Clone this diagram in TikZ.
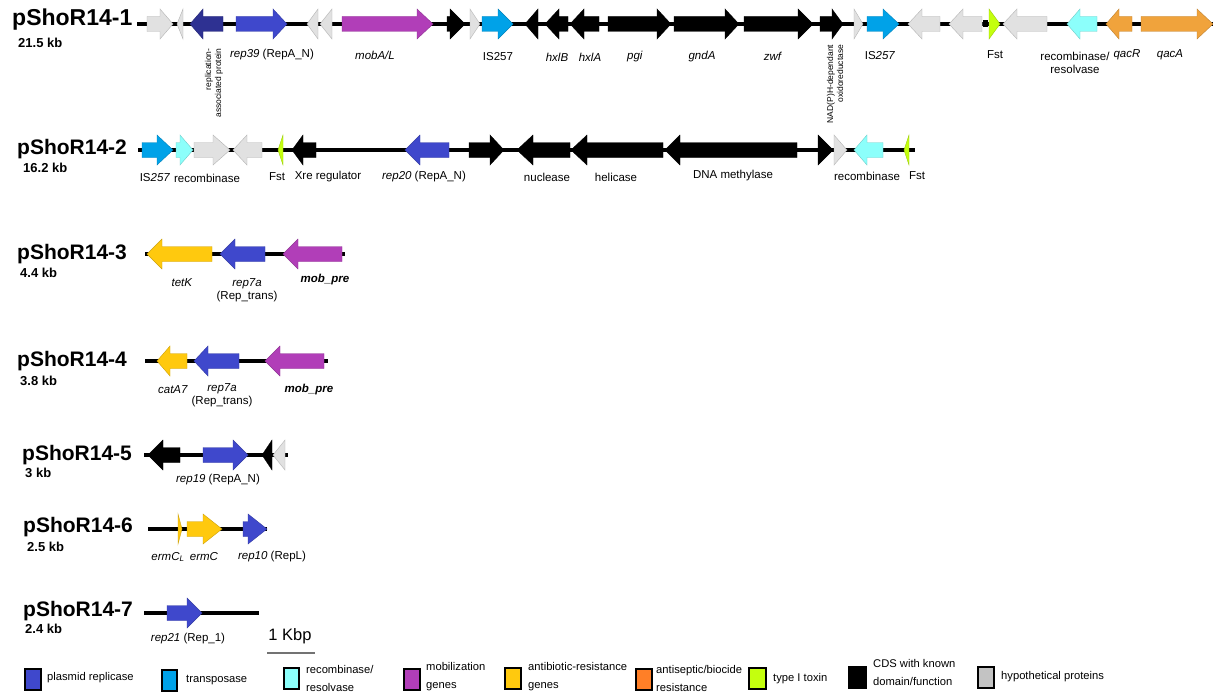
\documentclass[tikz,border=0pt]{standalone}
\usepackage{fontspec}
\setmainfont{Liberation Sans}
\definecolor{rep}{HTML}{3F48CC}
\definecolor{navy}{HTML}{2E3192}
\definecolor{tpase}{HTML}{00A2E8}
\definecolor{rec}{HTML}{8CFFFB}
\definecolor{mob}{HTML}{B13EB8}
\definecolor{abr}{HTML}{FFC90E}
\definecolor{qac}{HTML}{F0A33C}
\definecolor{asb}{HTML}{FF7F27}
\definecolor{tox}{HTML}{C4FF0E}
\definecolor{hyp}{HTML}{E1E1E1}
\definecolor{hypl}{HTML}{C3C3C3}
\newcommand\gn[5]{\path[gene,fill=#1,draw=#1!80!black] (#3,#2-7.5) -- (#4,#2-7.5) -- (#4,#2-15) -- (#5,#2) -- (#4,#2+15) -- (#4,#2+7.5) -- (#3,#2+7.5) -- cycle;}
\tikzset{
  gene/.style={line width=0.4pt, line join=miter},
  bb/.style={line width=4.5pt, black},
  lab/.style={font=\fontsize{11.5}{13.5}\selectfont, inner sep=0pt, align=center},
  rot/.style={font=\fontsize{8.5}{10}\selectfont, rotate=90, align=right, inner sep=0pt},
  ttl/.style={font=\fontsize{21}{24}\selectfont\bfseries, anchor=west, inner sep=0pt},
  kb/.style={font=\fontsize{13}{15}\selectfont\bfseries, anchor=west, inner sep=0pt},
  lbox/.style={line width=2pt, draw=black},
  ltxt/.style={font=\fontsize{11.2}{18}\selectfont, anchor=west, inner sep=0pt, align=left},
}
\begin{document}
\begin{tikzpicture}[x=1pt,y=-1pt]
\clip (0,0) rectangle (1213,693);
\fill[white] (0,0) rectangle (1213,693);

% ---------- pShoR14-1 ----------
\node[ttl] (t1) at (12,20) {\fontsize{23}{26}\selectfont pShoR14-1};
\node[kb] (k1) at (18,43) {21.5 kb};
\draw[bb] (137,24) -- (1213,24);
\gn{hyp}{24}{147}{160}{173}
\gn{hyp}{24}{183}{183}{177}
\gn{navy}{24}{223}{203}{190}
\gn{rep}{24}{236}{273}{287}
\gn{hyp}{24}{318}{318}{307}
\gn{hyp}{24}{332}{332}{320}
\gn{mob}{24}{342}{417}{433}
\gn{black}{24}{447}{450}{465}
\gn{hyp}{24}{470}{470}{480}
\gn{tpase}{24}{482}{498}{513}
\gn{black}{24}{538}{538}{525}
\gn{black}{24}{568}{559}{545}
\gn{black}{24}{599}{584}{570}
\gn{black}{24}{608}{657}{671}
\gn{black}{24}{674}{725}{739}
\gn{black}{24}{744}{798}{813}
\gn{black}{24}{820}{832}{843}
\gn{hyp}{24}{854}{854}{863}
\gn{tpase}{24}{867}{883}{899}
\gn{hyp}{24}{940}{922}{908}
\gn{hyp}{24}{982}{963}{949}
\fill[black] (983,20.5) rectangle (988,27.5);
\gn{tox}{24}{989}{989}{1000}
\gn{hyp}{24}{1047}{1017}{1003}
\gn{rec}{24}{1097}{1080}{1067}
\gn{qac}{24}{1132}{1119}{1106}
\gn{qac}{24}{1141}{1197}{1213}
\node[rot] (r1a) at (214,83) {replication-\\associated protein};
\node[lab] (r1b) at (272,55) {\textit{rep39} (RepA\_N)};
\node[lab] (r1c) at (375,55) {\textit{mobA/L}};
\node[lab] (r1d) at (498,57) {IS257};
\node[lab] (r1e) at (557,57) {\textit{hxlB}};
\node[lab] (r1f) at (590,57) {\textit{hxlA}};
\node[lab] (r1g) at (635,57) {\textit{pgi}};
\node[lab] (r1h) at (702,57) {\textit{gndA}};
\node[lab] (r1i) at (773,56) {\textit{zwf}};
\node[rot] (r1j) at (835,84) {NAD(P)H-dependant\\oxidoreductase};
\node[lab] (r1k) at (880,56) {IS\textit{257}};
\node[lab] (r1l) at (995,55) {Fst};
\node[lab] (r1m) at (1075,63) {recombinase/\\resolvase};
\node[lab] (r1n) at (1127,55) {\textit{qacR}};
\node[lab] (r1o) at (1170,55) {\textit{qacA}};

% ---------- pShoR14-2 ----------
\node[ttl] (t2) at (17,149) {pShoR14-2};
\node[kb] (k2) at (23,168) {16.2 kb};
\draw[bb] (138,150) -- (915,150);
\gn{tpase}{150}{142}{157}{173}
\gn{rec}{150}{176}{180}{193}
\gn{hyp}{150}{194}{213}{230}
\gn{hyp}{150}{262}{247}{233}
\gn{tox}{150}{283}{283}{278}
\gn{black}{150}{316}{303}{292}
\gn{rep}{150}{449}{420}{405}
\gn{black}{150}{469}{490}{504}
\gn{black}{150}{570}{533}{517}
\gn{black}{150}{663}{587}{571}
\gn{black}{150}{797}{680}{665}
\gn{black}{150}{818}{818}{833}
\gn{hyp}{150}{834}{834}{847}
\gn{rec}{150}{883}{867}{854}
\gn{tox}{150}{909}{909}{904}
\node[lab] (r2a) at (155,178) {IS\textit{257}};
\node[lab] (r2b) at (207,178) {recombinase};
\node[lab] (r2c) at (277,177) {Fst};
\node[lab] (r2d) at (328,177) {Xre regulator};
\node[lab] (r2e) at (424,177) {\textit{rep20} (RepA\_N)};
\node[lab] (r2f) at (547,177) {nuclease};
\node[lab] (r2g) at (616,177) {helicase};
\node[lab] (r2h) at (733,176) {DNA methylase};
\node[lab] (r2i) at (867,176) {recombinase};
\node[lab] (r2j) at (917,176) {Fst};

% ---------- pShoR14-3 ----------
\node[ttl] (t3) at (17,254) {pShoR14-3};
\node[kb] (k3) at (20,273) {4.4 kb};
\draw[bb] (145,254) -- (345,254);
\gn{abr}{254}{212}{162}{147}
\gn{rep}{254}{265}{235}{220}
\gn{mob}{254}{342}{298}{283}
\node[lab] (r3a) at (182,283) {\textit{tetK}};
\node[lab] (r3b) at (247,290) {\textit{rep7a}\\(Rep\_trans)};
\node[lab] (r3c) at (325,280) {\bfseries\itshape mob\_pre};

% ---------- pShoR14-4 ----------
\node[ttl] (t4) at (17,361) {pShoR14-4};
\node[kb] (k4) at (20,381) {3.8 kb};
\draw[bb] (145,361) -- (328,361);
\gn{abr}{361}{187}{170}{157}
\gn{rep}{361}{239}{208}{194}
\gn{mob}{361}{324}{280}{265}
\node[lab] (r4a) at (173,390) {\textit{catA7}};
\node[lab] (r4b) at (222,395) {\textit{rep7a}\\(Rep\_trans)};
\node[lab] (r4c) at (309,390) {\bfseries\itshape mob\_pre};

% ---------- pShoR14-5 ----------
\node[ttl] (t5) at (22,455) {pShoR14-5};
\node[kb] (k5) at (25,473) {3 kb};
\draw[bb] (144,455) -- (288,455);
\gn{black}{455}{180}{163}{148}
\gn{rep}{455}{203}{233}{248}
\gn{black}{455}{272}{272}{262}
\gn{hyp}{455}{285}{285}{273}
\node[lab] (r5a) at (218,480) {\textit{rep19} (RepA\_N)};

% ---------- pShoR14-6 ----------
\node[ttl] (t6) at (23,527) {pShoR14-6};
\node[kb] (k6) at (27,547) {2.5 kb};
\draw[bb] (148,529) -- (267,529);
\gn{abr}{529}{178}{178}{182}
\gn{abr}{529}{187}{203}{222}
\gn{rep}{529}{243}{248}{267}
\node[lab] (r6a) at (168,557) {\textit{ermC\textsubscript{L}}};
\node[lab] (r6b) at (204,557) {\textit{ermC}};
\node[lab] (r6c) at (272,557) {\textit{rep10} (RepL)};

% ---------- pShoR14-7 ----------
\node[ttl] (t7) at (23,611) {pShoR14-7};
\node[kb] (k7) at (25,629) {2.4 kb};
\draw[bb] (144,613) -- (259,613);
\gn{rep}{613}{167}{187}{202}
\node[lab] (r7a) at (188,639) {\textit{rep21} (Rep\_1)};
\node[inner sep=0pt, font=\fontsize{16.5}{18}\selectfont] (sc) at (290,636) {1 Kbp};
\coordinate (sa) at (267,653);
\coordinate (sb) at (315,653);
\draw[line width=1.5pt, black!55] (sa) -- (sb);

% ---------- legend ----------
\draw[lbox, fill=rep] (25,669) rectangle (41,690);
\node[ltxt] (g1) at (47,678) {plasmid replicase};
\draw[lbox, fill=tpase] (162,670) rectangle (177,691);
\node[ltxt] (g2) at (186,680) {transposase};
\draw[lbox, fill=rec] (284,668) rectangle (299,689);
\node[ltxt] (g3) at (306,678) {recombinase/\\resolvase};
\draw[lbox, fill=mob] (404,669) rectangle (420,690);
\node[ltxt] (g4) at (426,677) {mobilization\\genes};
\draw[lbox, fill=abr] (505,668) rectangle (521,689);
\node[ltxt] (g5) at (528,677) {antibiotic-resistance\\genes};
\draw[lbox, fill=asb] (636,669) rectangle (652,690);
\node[ltxt] (g6) at (656,678) {antiseptic/biocide\\resistance};
\draw[lbox, fill=tox] (749,668) rectangle (766,689);
\node[ltxt] (g7) at (773,679) {type I toxin};
\draw[lbox, fill=black] (849,667) rectangle (866,688);
\node[ltxt] (g8) at (873,672) {CDS with known\\domain/function};
\draw[lbox, fill=hypl] (978,667) rectangle (994,688);
\node[ltxt] (g9) at (1001,677) {hypothetical proteins};
\end{tikzpicture}
\end{document}
